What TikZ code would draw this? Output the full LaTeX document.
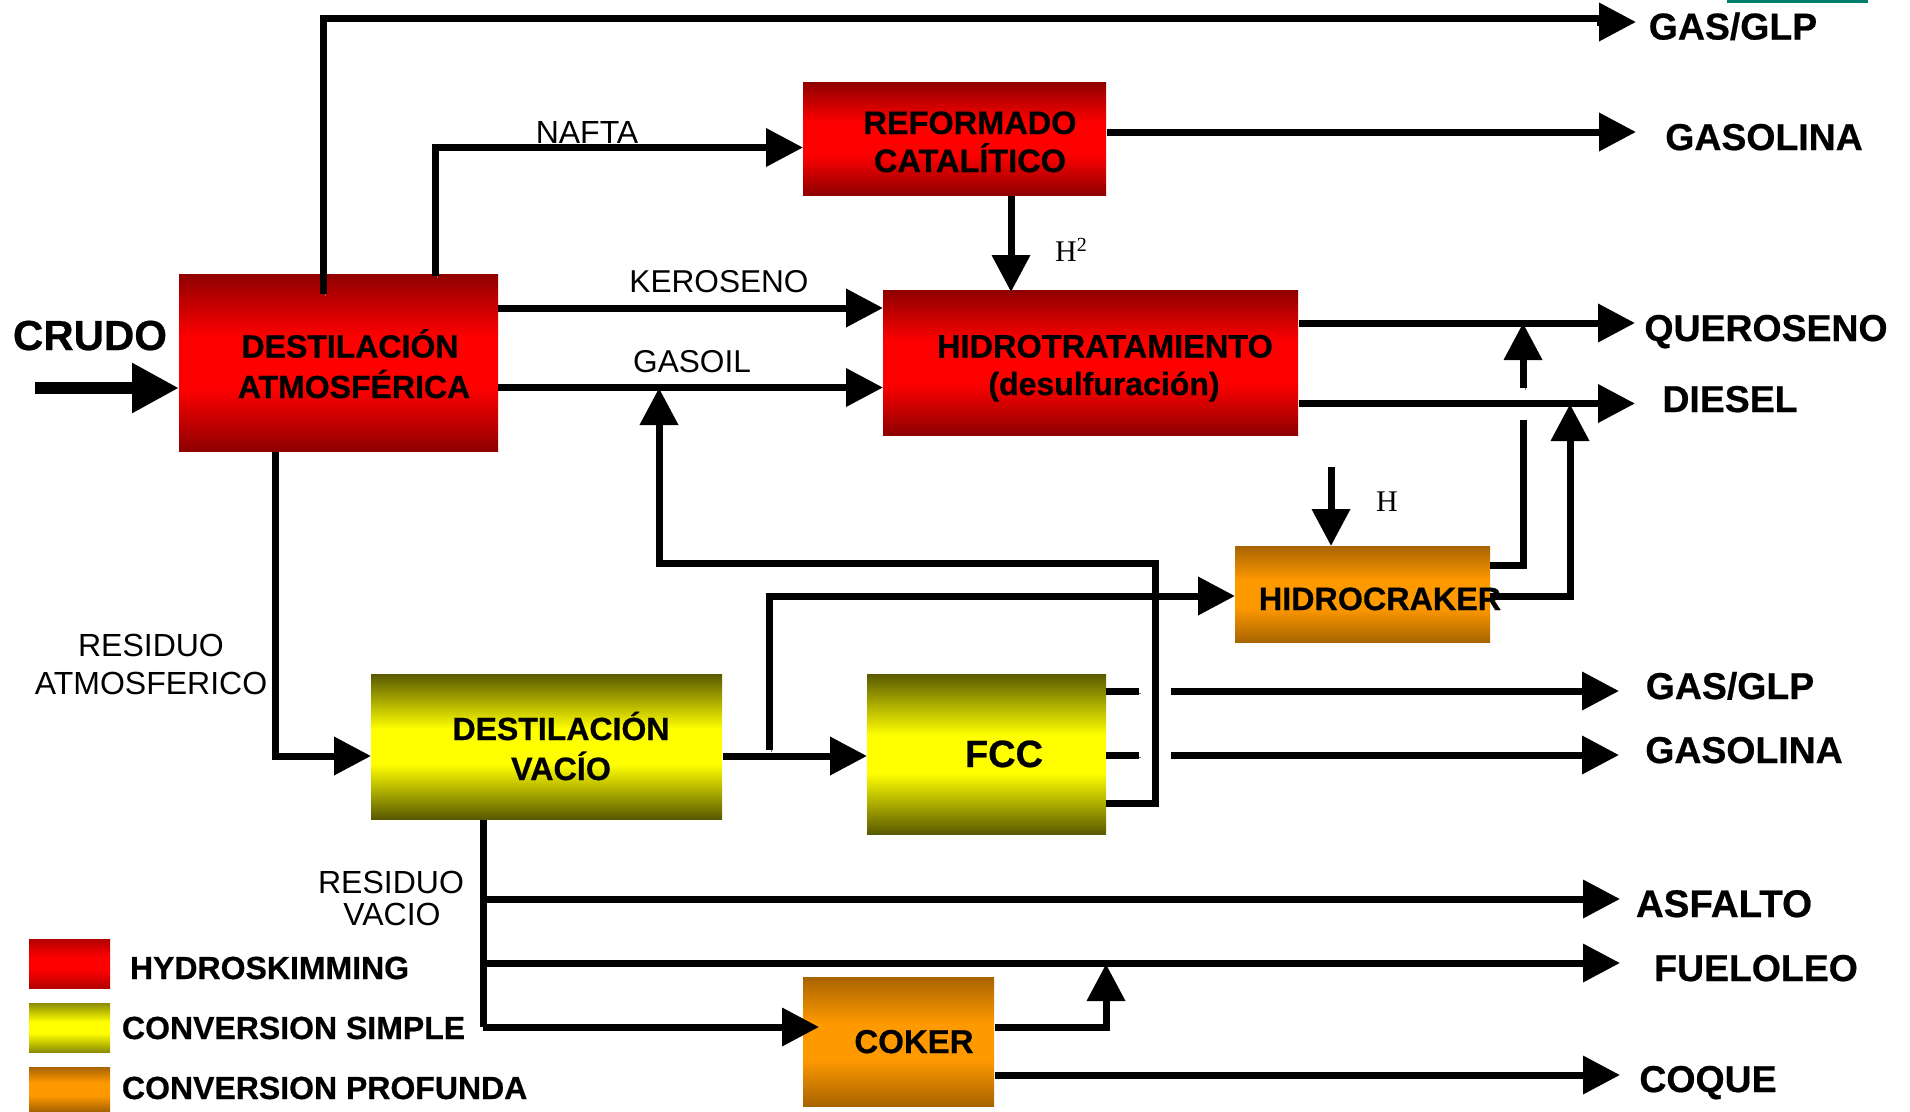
\documentclass[tikz,border=0pt]{standalone}
\usepackage{fontspec}
\setmainfont[BoldFeatures={FakeBold=0.6}]{Liberation Sans}
\newfontfamily\serifH{Liberation Serif}
\usetikzlibrary{arrows.meta}
\definecolor{tealline}{HTML}{00806A}
\definecolor{oraedge}{HTML}{A86400}
\definecolor{oramid}{HTML}{FF9900}
\pgfdeclareverticalshading{redsh}{100bp}{color(0bp)=(red!56!black);color(25bp)=(red!56!black);color(43bp)=(red);color(57bp)=(red);color(75bp)=(red!56!black);color(100bp)=(red!56!black)}
\pgfdeclareverticalshading{yelsh}{100bp}{color(0bp)=(yellow!35!black);color(25bp)=(yellow!35!black);color(44bp)=(yellow);color(56bp)=(yellow);color(75bp)=(yellow!35!black);color(100bp)=(yellow!35!black)}
\pgfdeclareverticalshading{orash}{100bp}{color(0bp)=(oraedge);color(25bp)=(oraedge);color(43bp)=(oramid);color(57bp)=(oramid);color(75bp)=(oraedge);color(100bp)=(oraedge)}
\pgfdeclareverticalshading{legredsh}{100bp}{color(0bp)=(red!70!black);color(25bp)=(red!70!black);color(44bp)=(red);color(56bp)=(red);color(75bp)=(red!70!black);color(100bp)=(red!70!black)}
\pgfdeclareverticalshading{legyelsh}{100bp}{color(0bp)=(yellow!55!black);color(25bp)=(yellow!55!black);color(44bp)=(yellow);color(56bp)=(yellow);color(75bp)=(yellow!55!black);color(100bp)=(yellow!55!black)}
\tikzset{
  procbox/.style={draw=none,inner sep=0pt,outer sep=0pt},
  redbox/.style={procbox,shading=redsh},
  yelbox/.style={procbox,shading=yelsh},
  orabox/.style={procbox,shading=orash},
  legred/.style={procbox,shading=legredsh},
  legyel/.style={procbox,shading=legyelsh},
  txt/.style={inner sep=0pt,outer sep=0pt,anchor=base,font=\fontsize{#1}{#1}\selectfont},
  btxt/.style={inner sep=0pt,outer sep=0pt,anchor=base,font=\fontsize{#1}{#1}\selectfont\bfseries},
  ltxt/.style={btxt=#1,anchor=base west},
  line/.style={draw=black,line width=7pt,line join=miter,line cap=butt},
  head/.style={line,-{Triangle[length=37pt,width=37pt]}},
  shline/.style={line,preaction={draw=black!55,transform canvas={shift={(2pt,-2pt)}}}},
  shhead/.style={head,preaction={draw=black!55,-,shorten >=30pt,transform canvas={shift={(2pt,-2pt)}}}},
}
\begin{document}
\begin{tikzpicture}[x=1pt,y=-1pt]
\useasboundingbox (0,0) rectangle (1910,1111);
% boxes
\node[redbox,minimum width=319pt,minimum height=177pt] (atm) at (338.5,362.5) {};
\node[redbox,minimum width=303pt,minimum height=113pt] (ref) at (954.5,138.5) {};
\node[redbox,minimum width=415pt,minimum height=145pt] (hdt) at (1090.5,362.5) {};
\node[orabox,minimum width=255pt,minimum height=96pt] (hcr) at (1362.5,594) {};
\node[yelbox,minimum width=351pt,minimum height=145pt] (vac) at (546.5,746.5) {};
\node[yelbox,minimum width=239pt,minimum height=160pt] (fcc) at (986.5,754) {};
\node[orabox,minimum width=191pt,minimum height=129pt] (cok) at (898.5,1041.5) {};
\node[legred,minimum width=81pt,minimum height=49pt] (lr) at (69.5,963.5) {};
\node[legyel,minimum width=81pt,minimum height=49pt] (ly) at (69.5,1027.5) {};
\node[orabox,minimum width=81pt,minimum height=44pt] (lo) at (69.5,1089) {};
\fill[tealline] (1727,0) rectangle (1868,3);
% free ends
\coordinate (tGas) at (1636,22);
\coordinate (tGasS) at (1597,22);
\coordinate (topL) at (1600,18);
\coordinate (tGaso) at (1636,132);
\coordinate (tQue) at (1635,323);
\coordinate (tDie) at (1635,403.5);
\coordinate (crudoS) at (35,388);
\coordinate (upA) at (1523,388);
\coordinate (upB) at (1523,323);
\coordinate (upC) at (1523,420);
\coordinate (hS) at (1331,467);
\coordinate (gapA) at (1139,691);
\coordinate (gapB) at (1171,691);
\coordinate (tG2) at (1619,691);
\coordinate (gapC) at (1139,755);
\coordinate (gapD) at (1171,755);
\coordinate (tGl2) at (1619,755);
\coordinate (tAsf) at (1620,899);
\coordinate (tFue) at (1620,963);
\coordinate (tCoq) at (1620,1075);
% connectors
\draw[shline] (323,294) -- (323,18) -- (topL);
\draw[head] (tGasS) -- (tGas);
\draw[shhead] (435,276) -- (435,147.5) -- (ref.west |- 0,147.5);
\draw[shhead] (atm.east |- 0,308) -- (hdt.west |- 0,308);
\draw[shhead] (atm.east |- 0,387.5) -- (hdt.west |- 0,387.5);
\draw[line width=12pt,draw=black,-{Triangle[length=47pt,width=47pt]}] (crudoS) -- (atm.west |- crudoS);
\draw[shhead] (1107,132) -- (tGaso);
\draw[head] (1011,196) -- ([yshift=-2pt]hdt.north -| 1011,0);
\draw[head] (1299,323) -- (tQue);
\draw[head] (1299,403.5) -- (tDie);
\draw[shhead] (upA) -- (upB);
\draw[shline] (hcr.east |- 0,565) -- (1523,565) -- (upC);
\draw[shhead] (hcr.east |- 0,596) -- (1570,596) -- (1570,404);
\draw[head] (hS) -- (hcr.north -| hS);
\draw[shhead] (769,750) -- (769,596) -- (hcr.west |- 0,596);
\draw[shhead] (fcc.east |- 0,803) -- (1155,803) -- (1155,563) -- (659,563) -- (659,388);
\draw[shhead] (275,452) -- (275,756) -- (vac.west |- 0,756);
\draw[shhead] (723,756) -- (fcc.west |- 0,756);
\draw[shline] (fcc.east |- gapA) -- (gapA);
\draw[shhead] (gapB) -- (tG2);
\draw[shline] (fcc.east |- gapC) -- (gapC);
\draw[shhead] (gapD) -- (tGl2);
\draw[shline] (483,820) -- (483,1027);
\draw[shhead] (483,1027) -- (819,1027);
\draw[shhead] (483,899) -- (tAsf);
\draw[shhead] (483,963) -- (tFue);
\draw[shhead] (995,1027) -- (1106,1027) -- (1106,964);
\draw[shhead] (995,1075) -- (tCoq);
% texts
\node[btxt=42] (tcrudo) at (90,350) {CRUDO};
\node[btxt=32] (t1) at (350,357.5) {DESTILACIÓN};
\node[btxt=32] (t2) at (354,398) {ATMOSFÉRICA};
\node[btxt=32.5] (t3) at (970,134) {REFORMADO};
\node[btxt=32.5] (t4) at (970,172) {CATALÍTICO};
\node[btxt=32.5] (t5) at (1105,357.5) {HIDROTRATAMIENTO};
\node[btxt=32] (t6) at (1104,395) {(desulfuración)};
\node[btxt=32.3] (t7) at (1380,610) {HIDROCRAKER};
\node[btxt=32] (t8) at (561,740) {DESTILACIÓN};
\node[btxt=32.3] (t9) at (561,780) {VACÍO};
\node[btxt=38] (t10) at (1004,767) {FCC};
\node[btxt=33] (t11) at (914,1053) {COKER};
\node[txt=32] (l1) at (587,143) {NAFTA};
\node[txt=31.6] (l2) at (719,292) {KEROSENO};
\node[txt=31.6] (l3) at (692,372) {GASOIL};
\node[txt=32] (l4) at (151,656) {RESIDUO};
\node[txt=32] (l5) at (151,694) {ATMOSFERICO};
\node[txt=32] (l6) at (391,893) {RESIDUO};
\node[txt=32] (l7) at (392,925) {VACIO};
\node[inner sep=0pt,anchor=base west,font=\fontsize{30}{30}\selectfont\serifH] (h2) at (1055,261) {H\raisebox{10pt}{\fontsize{20}{20}\selectfont 2}};
\node[inner sep=0pt,anchor=base west,font=\fontsize{30}{30}\selectfont\serifH] (h1) at (1376,511.5) {H};
\node[btxt=37.4] (r1) at (1733,39.5) {GAS/GLP};
\node[btxt=37.4] (r2) at (1764,150) {GASOLINA};
\node[btxt=37.4] (r3) at (1766,341) {QUEROSENO};
\node[btxt=37.4] (r4) at (1730,412) {DIESEL};
\node[btxt=37.4] (r5) at (1730,699) {GAS/GLP};
\node[btxt=37.4] (r6) at (1744,763) {GASOLINA};
\node[btxt=38.5] (r7) at (1724,917) {ASFALTO};
\node[btxt=37.4] (r8) at (1756,981) {FUELOLEO};
\node[btxt=37.4] (r9) at (1708,1092) {COQUE};
\node[ltxt=32] (k1) at (130,979) {HYDROSKIMMING};
\node[ltxt=32] (k2) at (122,1039) {CONVERSION SIMPLE};
\node[ltxt=32] (k3) at (122,1099) {CONVERSION PROFUNDA};
\end{tikzpicture}
\end{document}
